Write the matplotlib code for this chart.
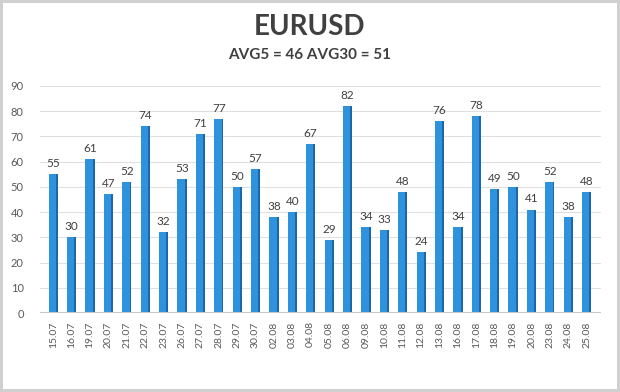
import matplotlib.pyplot as plt

# Daily volatility, points
dates = ["15.07", "16.07", "19.07", "20.07", "21.07", "22.07", "23.07", "26.07",
         "27.07", "28.07", "29.07", "30.07", "02.08", "03.08", "04.08", "05.08",
         "06.08", "09.08", "10.08", "11.08", "12.08", "13.08", "16.08", "17.08",
         "18.08", "19.08", "20.08", "23.08", "24.08", "25.08"]
values = [55, 30, 61, 47, 52, 74, 32, 53, 71, 77, 50, 57, 38, 40, 67, 29,
          82, 34, 33, 48, 24, 76, 34, 78, 49, 50, 41, 52, 38, 48]

plt.rcParams['font.family'] = ['Lato', 'DejaVu Sans']

fig = plt.figure(figsize=(6.2, 3.92), dpi=100, facecolor="white",
                 edgecolor="#d0d0d0", linewidth=3)
ax = fig.add_axes([0.065, 0.2015, 0.905, 0.5795])

x = list(range(len(values)))
ax.bar(x, values, width=0.5, color="#2f92dc", zorder=3)
# darker right face for the 3D look
ax.bar([i + 0.2 for i in x], values, width=0.1, color="#1d66a8", zorder=4)

for i, v in enumerate(values):
    ax.text(i, v + 2, str(v), ha="center", va="bottom", fontsize=8.5,
            color="#404040")

ax.set_ylim(0, 90)
ax.set_xlim(-0.7, 29.8)
ax.set_yticks(range(0, 91, 10))
ax.set_xticks(x)
ax.set_xticklabels(dates, rotation=90, fontsize=7.5, color="#595959")
ax.tick_params(axis="y", labelsize=8, labelcolor="#595959", length=0, pad=12)
ax.tick_params(axis="x", length=0, pad=6)
ax.grid(axis="y", color="#e0e0e0", linewidth=0.8, zorder=0)
ax.axhline(0, color="#c8c8c8", linewidth=1.5, zorder=5)
for s in ax.spines.values():
    s.set_visible(False)

fig.text(0.5, 0.931, "EURUSD", ha="center", va="center", fontsize=20,
         fontweight="bold", color="#404040")
fig.text(0.5, 0.86, "AVG5 = 46 AVG30 = 51", ha="center", va="center",
         fontsize=11, fontweight="bold", color="#404040")

fig.savefig("out.png", dpi=100, facecolor="white", edgecolor="#d0d0d0")
